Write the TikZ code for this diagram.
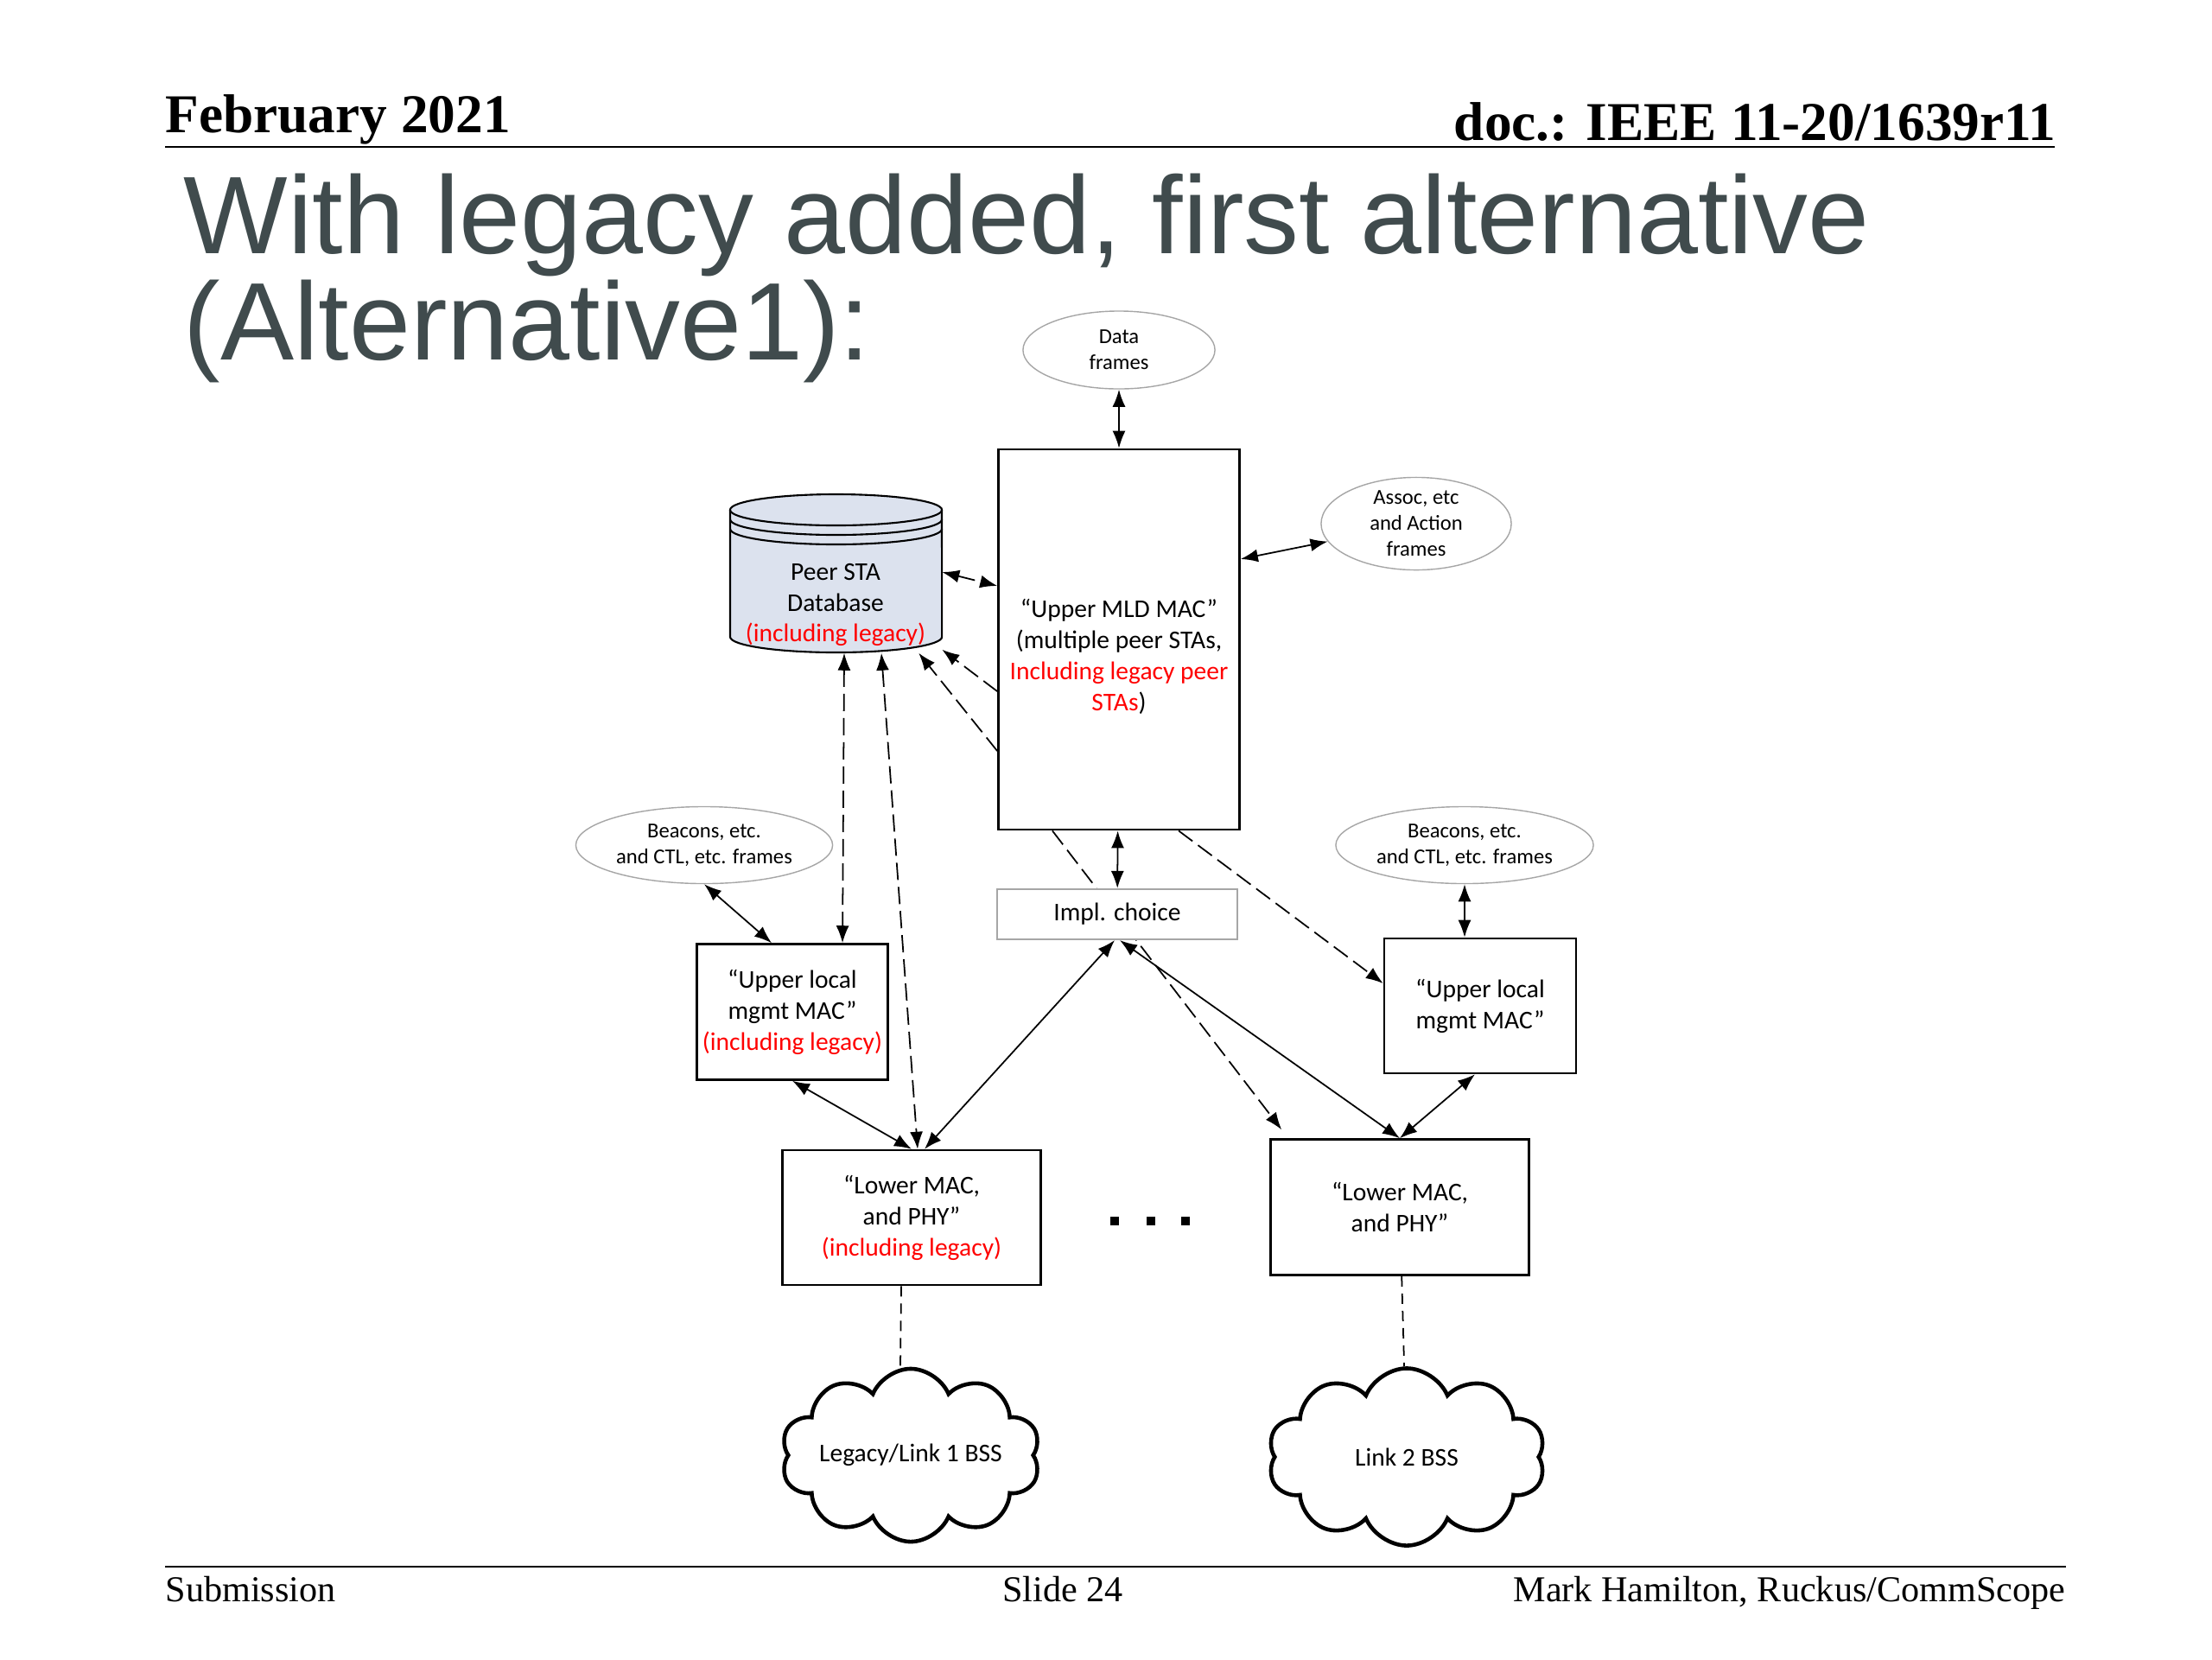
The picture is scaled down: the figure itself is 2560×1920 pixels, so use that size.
\documentclass[tikz,border=0pt]{standalone}
\usepackage{fontspec}
\setmainfont{Carlito}
\newfontfamily\titlefont{Liberation Sans}
\newfontfamily\slidefont{Liberation Serif}
\usetikzlibrary{shapes.geometric,shapes.symbols,arrows.meta}
\definecolor{legacy}{HTML}{FF0000}
\definecolor{titlegray}{HTML}{404B4D}
\definecolor{dbfill}{HTML}{DCE2EE}
\definecolor{thin}{HTML}{A6A6A6}
\tikzset{mac/.style={draw=black, line width=0.7pt, fill=white, align=center, inner sep=0pt, font=\fontsize{8.4}{10.2}\selectfont}}
\tikzset{impl/.style={draw=thin, line width=0.6pt, fill=white, inner sep=0pt, font=\fontsize{8.4}{10.2}\selectfont}}
\tikzset{frames/.style={draw=thin, ellipse, line width=0.4pt, align=center, inner sep=0pt, font=\fontsize{7}{8.5}\selectfont}}
\tikzset{bss/.style={draw=black, cloud, cloud puffs=10, cloud puff arc=135, cloud ignores aspect, line width=1.3pt, inner sep=0pt, font=\fontsize{8.4}{10.2}\selectfont}}
\tikzset{dbtext/.style={align=center, inner sep=0pt, minimum width=2.45cm, minimum height=1.10cm, font=\fontsize{8.4}{10.2}\selectfont}}
\tikzset{link/.style={line width=0.5pt}}
\tikzset{dashlink/.style={line width=0.5pt, dash pattern=on 0.2cm off 0.08cm}}
\tikzset{bsslink/.style={line width=0.5pt, dash pattern=on 0.12cm off 0.08cm}}
\tikzset{slidehead/.style={inner sep=0pt, font=\slidefont\fontsize{18}{20}\selectfont\bfseries}}
\tikzset{slidefoot/.style={inner sep=0pt, font=\slidefont\fontsize{12}{14}\selectfont}}

\begin{document}
\begin{tikzpicture}[x=0.01cm, y=-0.01cm, >={Latex[length=0.2cm, width=0.15cm]}]
    \useasboundingbox (0,0) rectangle (2560,1920);

    \node[slidehead, anchor=base west] (date) at (191,153) {February 2021};
    \node[slidehead, anchor=base east] (doc) at (2380,162) {doc.: IEEE 11-20/1639r11};
    \draw[line width=0.8pt] (191,170) -- (2378,170);
    \node[anchor=north west, align=left, inner sep=0pt, text=titlegray, font=\titlefont\fontsize{36.3}{35}\selectfont] (title) at (212,200) {With legacy added, first alternative\\(Alternative1):};

    % database cylinder
    \fill[dbfill] (845,590) -- (845,737) arc[start angle=180, end angle=360, x radius=1.225cm, y radius=0.18cm] -- (1090,590) arc[start angle=0, end angle=180, x radius=1.225cm, y radius=0.18cm] -- cycle;
    \draw[thin, line width=0.6pt] (845,590) -- (845,737) arc[start angle=180, end angle=360, x radius=1.225cm, y radius=0.18cm] -- (1090,590);
    \draw[thin, line width=0.6pt] (967.5,590) ellipse[x radius=1.225cm, y radius=0.18cm];
    \foreach \y in {601,612}
        \draw[thin, line width=0.6pt] (845,\y) arc[start angle=180, end angle=360, x radius=1.225cm, y radius=0.18cm];
    \node[dbtext] (db) at (967,700) {Peer STA\\Database\\\textcolor{legacy}{(including legacy)}};

    \node[frames, minimum width=2.22cm, minimum height=0.90cm] (data) at (1295,405) {Data\\frames};
    \node[frames, minimum width=2.20cm, minimum height=0.87cm] (assoc) at (1639,606) {Assoc, etc\\and Action\\frames};
    \node[frames, minimum width=2.97cm, minimum height=0.89cm] (bcL) at (815,978) {Beacons, etc.\\and CTL, etc. frames};
    \node[frames, minimum width=2.98cm, minimum height=0.89cm] (bcR) at (1695,978) {Beacons, etc.\\and CTL, etc. frames};

    \node[mac, minimum width=2.79cm, minimum height=4.40cm] (mld) at (1295,740) {};
    \node[align=center, inner sep=0pt, font=\fontsize{8.4}{10.2}\selectfont] (mldtext) at (1295,760) {“Upper MLD MAC”\\(multiple peer STAs,\\\textcolor{legacy}{Including legacy peer}\\\textcolor{legacy}{STAs})};
    \node[mac, minimum width=2.21cm, minimum height=1.57cm] (ulL) at (917,1171) {“Upper local\\mgmt MAC”\\\textcolor{legacy}{(including legacy)}};
    \node[mac, minimum width=2.22cm, minimum height=1.56cm] (ulR) at (1713,1164) {“Upper local\\mgmt MAC”};
    \node[mac, minimum width=2.99cm, minimum height=1.56cm] (lmL) at (1055,1409) {“Lower MAC,\\and PHY”\\\textcolor{legacy}{(including legacy)}};
    \node[mac, minimum width=2.99cm, minimum height=1.57cm] (lmR) at (1620,1397) {“Lower MAC,\\and PHY”};
    \node[bss, minimum width=3.00cm, minimum height=2.00cm] (cloudL) at (1054,1684) {Legacy/Link 1 BSS};
    \node[bss, minimum width=3.21cm, minimum height=2.05cm] (cloudR) at (1628,1686) {Link 2 BSS};

    \draw[->, dashlink] ([xshift=-0.77cm]mld.south) -- ([xshift=0.14cm, yshift=0.10cm]lmR.north west);
    \node[impl, minimum width=2.77cm, minimum height=0.58cm] (implc) at (1293,1058) {Impl. choice};

    \draw[<->, link] (data) -- (mld);
    \draw[<->, link] ([yshift=0.93cm]mld.east) -- (assoc);
    \draw[<->, dashlink] ([yshift=0.38cm]db.east) -- ([yshift=0.62cm]mld.west);
    \draw[->, dashlink] ([yshift=-0.60cm]mld.west) -- ([yshift=0.04cm]db.south east);
    \draw[->, dashlink] ([yshift=-1.29cm]mld.west) -- ([xshift=-0.27cm]db.south east);
    \draw[<->, dashlink] ([xshift=0.10cm]db.south) -- ([xshift=0.58cm]ulL.north);
    \draw[<->, dashlink] ([xshift=0.53cm]db.south) -- ([xshift=0.07cm]lmL.north);
    \draw[->, dashlink] ([xshift=0.69cm]mld.south) -- ([yshift=0.26cm]ulR.west);
    \draw[<->, link] (mld) -- (implc);
    \draw[<->, link] (bcL.south) -- ([xshift=-0.24cm]ulL.north);
    \draw[<->, link] (bcR) -- (bcR |- ulR.north);
    \draw[<->, link] (ulL.south) -- (lmL.north);
    \draw[<->, link] ([xshift=-0.03cm]implc.south) -- ([xshift=0.15cm]lmL.north);
    \draw[<->, link] ([xshift=0.03cm]implc.south) -- (lmR.north);
    \draw[<->, link] ([xshift=-0.06cm]ulR.south) -- (lmR.north);
    \draw[bsslink] ([xshift=-0.12cm]lmL.south) -- ([xshift=-0.12cm]cloudL.north);
    \draw[bsslink] (lmR) -- (cloudR);

    \foreach \x in {1290,1332,1372}
        \fill (\x-5,1408) rectangle ++(10,10);

    \draw[line width=0.8pt] (191,1813) -- (2391,1813);
    \node[slidefoot, anchor=base west] (sub) at (191,1853) {Submission};
    \node[slidefoot, anchor=base] (slide) at (1230,1853) {Slide 24};
    \node[slidefoot, anchor=base east] (author) at (2391,1853) {Mark Hamilton, Ruckus/CommScope};
\end{tikzpicture}
\end{document}
